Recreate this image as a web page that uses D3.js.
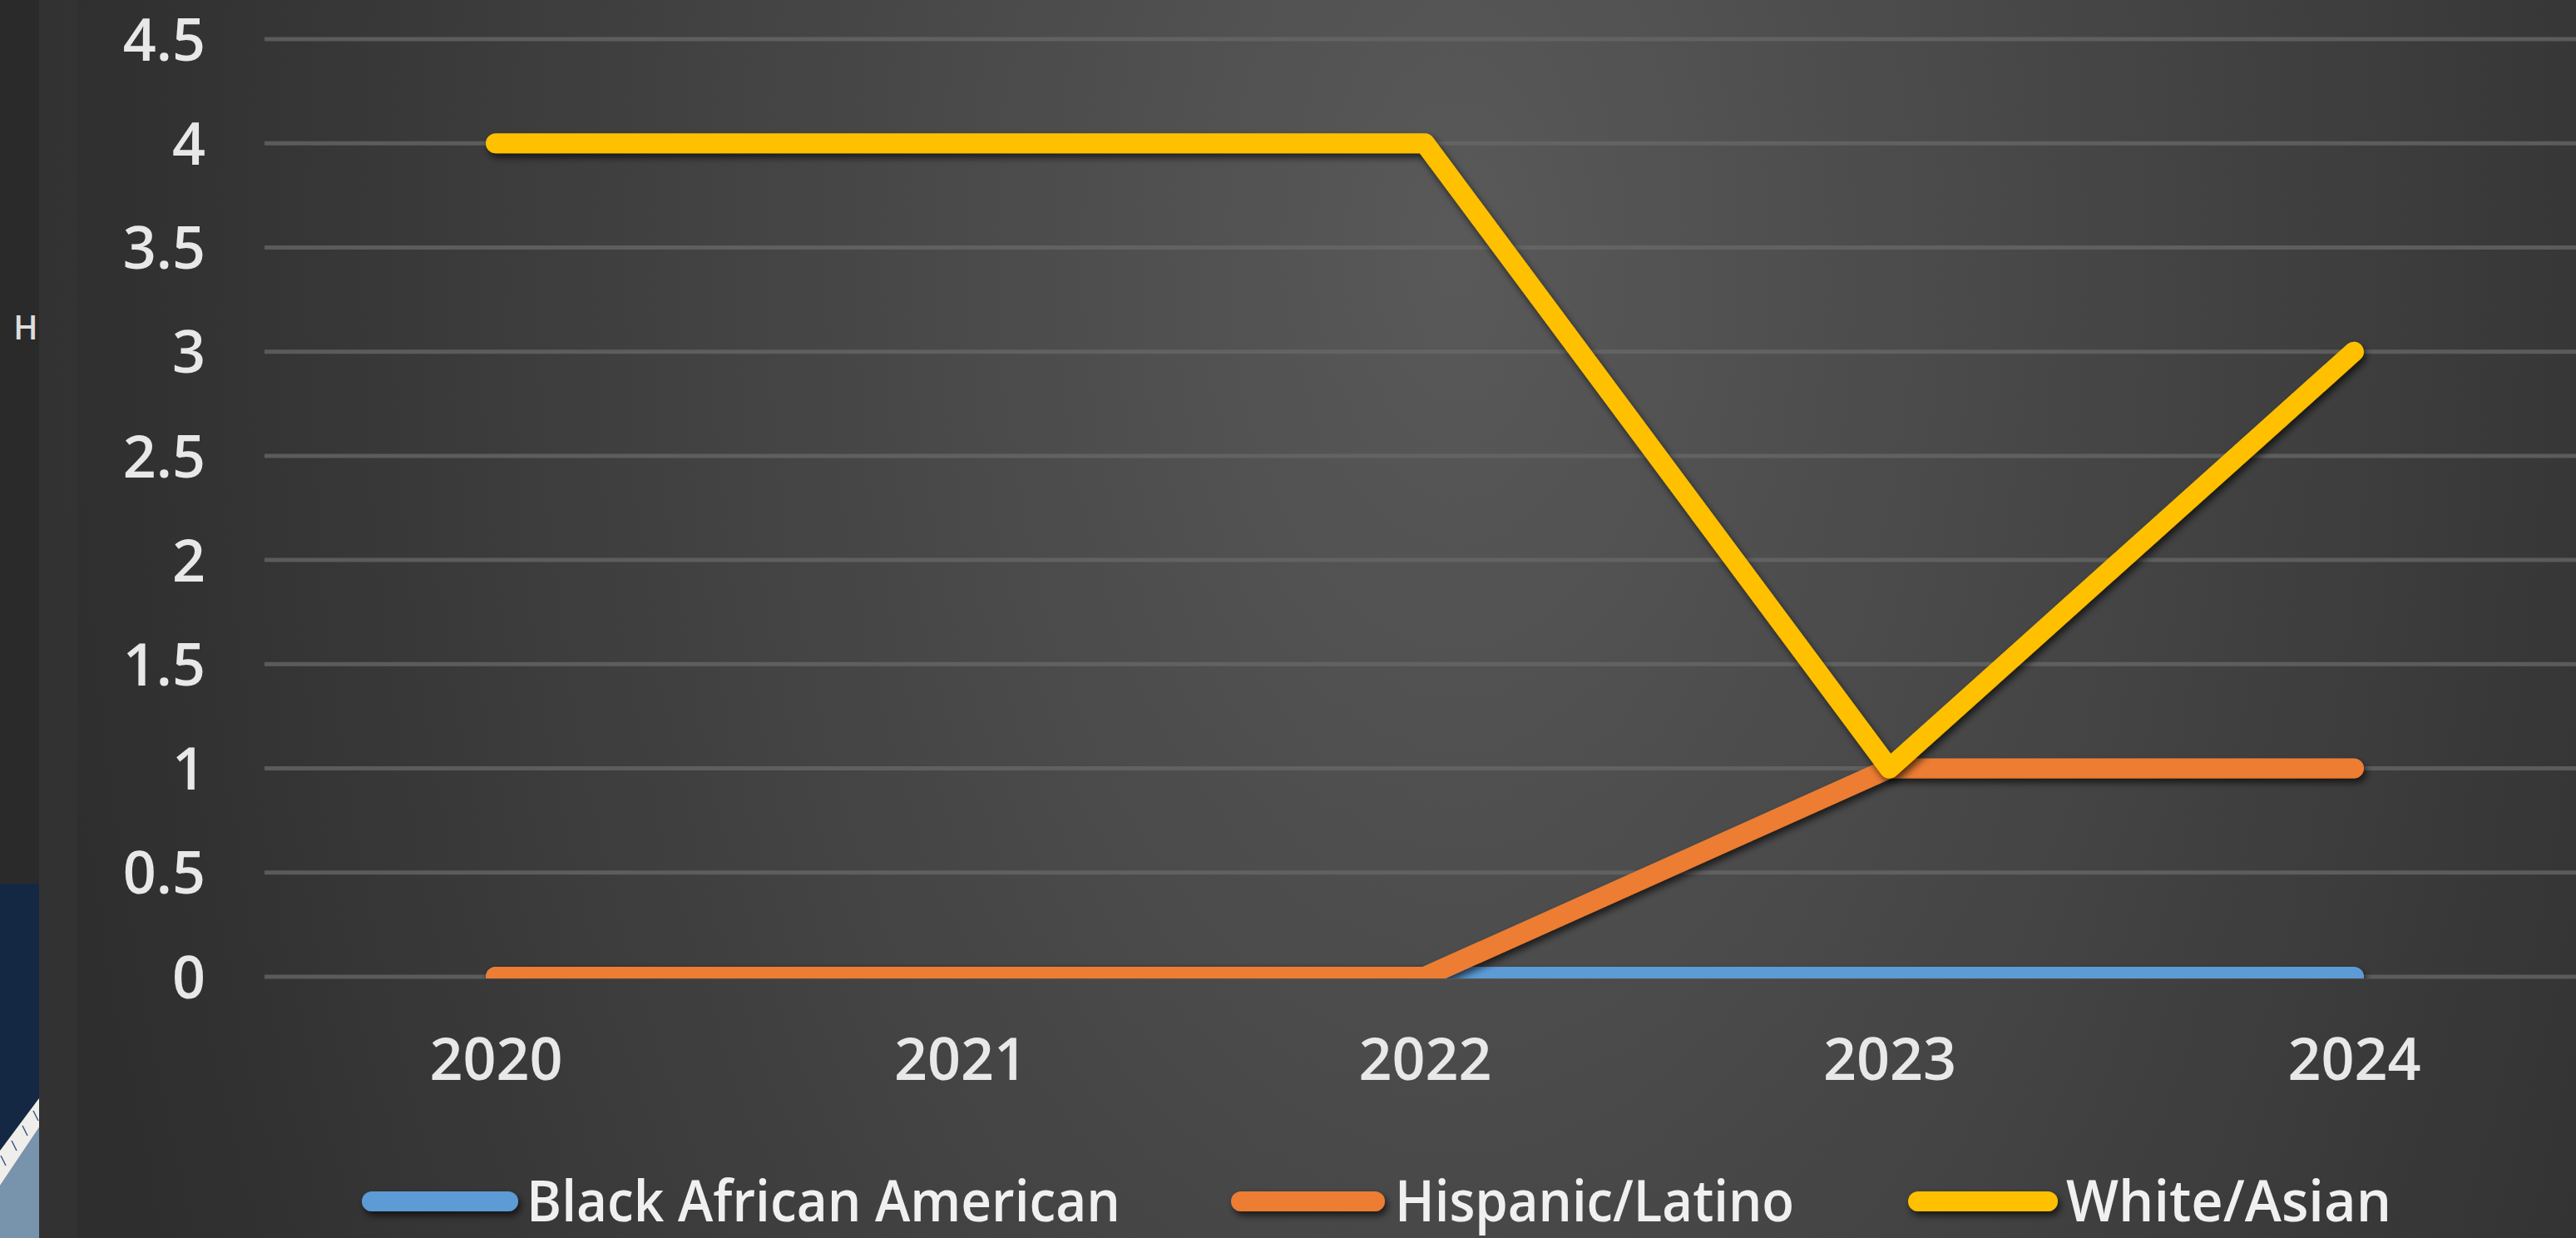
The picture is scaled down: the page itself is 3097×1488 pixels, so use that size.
<!DOCTYPE html>
<html>
<head>
<meta charset="utf-8">
<script src="https://cdn.jsdelivr.net/npm/d3@7"></script>
<style>
html,body{margin:0;padding:0;background:#2b2b2b;overflow:hidden;}
svg{display:block;}
</style>
</head>
<body>
<svg id="chart" width="3097" height="1488"></svg>
<script>
// ---- data ----
const years = ["2020", "2021", "2022", "2023", "2024"];
const blackAfricanAmerican = [0, 0, 0, 0, 0];
const hispanicLatino = [0, 0, 0, 1, 1];
const whiteAsian = [4, 4, 4, 1, 3];
const seriesNames = ["Black African American", "Hispanic/Latino", "White/Asian"];
const seriesColors = ["#5B9BD5", "#ED7D31", "#FFC000"];
const yTickValues = [0, 0.5, 1, 1.5, 2, 2.5, 3, 3.5, 4, 4.5];

const W = 3097, H = 1488;
const svg = d3.select("#chart");
const defs = svg.append("defs");

// background gradient
const g1 = defs.append("radialGradient").attr("id", "bg")
  .attr("gradientUnits", "userSpaceOnUse")
  .attr("cx", 1750).attr("cy", 300).attr("r", 1700)
  .attr("gradientTransform", "translate(1750,300) scale(1,1.75) translate(-1750,-300)");
g1.append("stop").attr("offset", 0).attr("stop-color", "#595959");
g1.append("stop").attr("offset", 1).attr("stop-color", "#2e2e2e");

const sh = defs.append("filter").attr("id", "shadow")
  .attr("filterUnits", "userSpaceOnUse")
  .attr("x", 0).attr("y", 0).attr("width", W).attr("height", H);
sh.append("feDropShadow").attr("dx", 3).attr("dy", 5).attr("stdDeviation", 4)
  .attr("flood-color", "#000").attr("flood-opacity", 0.65);

defs.append("clipPath").attr("id", "plotClip")
  .append("rect").attr("x", 47).attr("y", 0).attr("width", W - 47).attr("height", 1176);

// left strip (slide remnant)
svg.append("rect").attr("x", 0).attr("y", 0).attr("width", 47).attr("height", H).attr("fill", "#2a2a2a");
svg.append("rect").attr("x", 0).attr("y", 1062).attr("width", 47).attr("height", H - 1062).attr("fill", "#152843");
svg.append("polygon").attr("points", "47,1355 47,1488 0,1488 0,1425").attr("fill", "#7894ac");
svg.append("polygon").attr("points", "47,1320 47,1355 0,1425 0,1383").attr("fill", "#f0eeea");
[0, 1, 2, 3].forEach(i => {
  const x = 40 - i * 13, y = 1335 + i * 18;
  svg.append("line").attr("x1", x).attr("y1", y).attr("x2", x + 6).attr("y2", y + 12)
    .attr("stroke", "#3a5a88").attr("stroke-width", 1.5);
});
svg.append("text").attr("x", 31).attr("y", 408).attr("text-anchor", "middle")
  .attr("font-family", "Open Sans").attr("font-weight", 600).attr("font-size", 39).attr("fill", "#dddddd").text("H");

// chart background
svg.append("rect").attr("x", 47).attr("y", 0).attr("width", W - 47).attr("height", H).attr("fill", "url(#bg)");
svg.append("rect").attr("x", 47).attr("y", 0).attr("width", 46).attr("height", H).attr("fill", "#ffffff").attr("opacity", 0.025);

// scales
const x = d3.scalePoint().domain(years).range([596, 2830]);
const y = d3.scaleLinear().domain([0, 4.5]).range([1174, 47]);
const gridLeft = 318;

// gridlines
svg.append("g").selectAll("line").data(yTickValues).join("line")
  .attr("x1", gridLeft).attr("x2", W)
  .attr("y1", d => y(d)).attr("y2", d => y(d))
  .attr("stroke", "#686868").attr("stroke-opacity", 0.75).attr("stroke-width", 5);

// y axis
const yAxis = svg.append("g").attr("transform", `translate(${gridLeft},0)`)
  .call(d3.axisLeft(y).tickValues(yTickValues).tickSize(0).tickPadding(71).tickFormat(d => String(d)));
yAxis.select(".domain").remove();
yAxis.selectAll("text").attr("font-family", "Open Sans").attr("font-weight", 600).attr("font-size", 70)
  .attr("fill", "#e8e8e8").attr("dy", "0.36em");

// x axis
const xAxis = svg.append("g").attr("transform", `translate(0,${y(0)})`)
  .call(d3.axisBottom(x).tickSize(0));
xAxis.select(".domain").remove();
xAxis.selectAll("text").attr("font-family", "Open Sans").attr("font-weight", 600).attr("font-size", 70)
  .attr("fill", "#e8e8e8").attr("y", 124).attr("dy", 0);

// lines
const allSeries = [blackAfricanAmerican, hispanicLatino, whiteAsian];
const line = d3.line().x((d, i) => x(years[i])).y(d => y(d));
const lineG = svg.append("g").attr("clip-path", "url(#plotClip)");
allSeries.forEach((vals, k) => {
  lineG.append("path").datum(vals).attr("d", line)
    .attr("fill", "none").attr("stroke", seriesColors[k]).attr("stroke-width", 24)
    .attr("stroke-linecap", "round").attr("stroke-linejoin", "round")
    .attr("filter", "url(#shadow)");
});

// legend
const legendItems = [
  {x0: 435, x1: 623, tx: 633, tw: 714},
  {x0: 1480, x1: 1665, tx: 1677, tw: 480},
  {x0: 2294, x1: 2474, tx: 2484, tw: 391}
];
const leg = svg.append("g");
legendItems.forEach((it, k) => {
  leg.append("line").attr("x1", it.x0 + 12).attr("x2", it.x1 - 12)
    .attr("y1", 1444).attr("y2", 1444)
    .attr("stroke", seriesColors[k]).attr("stroke-width", 24).attr("stroke-linecap", "round")
    .attr("filter", "url(#shadow)");
  leg.append("text").attr("x", it.tx).attr("y", 1468)
    .attr("font-family", "Open Sans").attr("font-weight", 600).attr("font-size", 68).attr("fill", "#f0f0f0")
    .attr("textLength", it.tw).attr("lengthAdjust", "spacingAndGlyphs")
    .text(seriesNames[k]);
});
</script>
</body>
</html>
